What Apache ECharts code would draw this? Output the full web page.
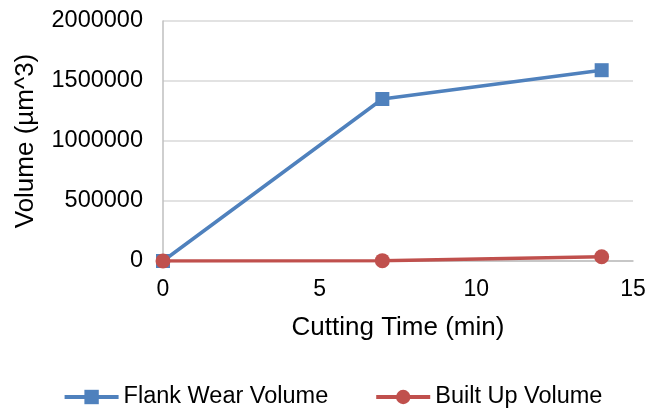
<!DOCTYPE html>
<html>
<head>
<meta charset="utf-8">
<script src="https://cdn.jsdelivr.net/npm/echarts@6/dist/echarts.min.js"></script>
<style>
  html, body { margin: 0; padding: 0; background: #fff; }
  #chart { width: 665px; height: 409px; }
</style>
</head>
<body>
<div id="chart"></div>
<script>
// Cutting time (min) at which each volume was measured
const cuttingTime = [0, 7, 14];
// Tool wear volumes (µm^3)
const flankWearVolume = [0, 1350000, 1590000];
const builtUpVolume = [0, 3000, 35000];

const seriesNames = ['Flank Wear Volume', 'Built Up Volume'];

const font = 'Arial, "Liberation Sans", sans-serif';
const chart = echarts.init(document.getElementById('chart'));

chart.setOption({
  animation: false,
  textStyle: { fontFamily: font, color: '#000' },
  grid: { left: 163, right: 32, top: 21, bottom: 148, containLabel: false },
  xAxis: {
    type: 'value',
    min: 0, max: 15, interval: 5,
    name: 'Cutting Time (min)',
    nameLocation: 'middle',
    nameGap: 54,
    nameTextStyle: { fontSize: 26, fontFamily: font, color: '#000' },
    axisLine: { show: true, lineStyle: { color: '#bfbfbf', width: 1.5 } },
    axisTick: { show: false },
    splitLine: { show: false },
    axisLabel: { fontSize: 23, fontFamily: font, color: '#000', margin: 17 }
  },
  yAxis: {
    type: 'value',
    min: 0, max: 2000000, interval: 500000,
    name: 'Volume (µm^3)',
    nameLocation: 'middle',
    nameGap: 124,
    nameTextStyle: { fontSize: 26, fontFamily: font, color: '#000' },
    axisLine: { show: true, lineStyle: { color: '#bfbfbf', width: 1.5 } },
    axisTick: { show: false },
    splitLine: { show: true, lineStyle: { color: '#d9d9d9', width: 1.5 } },
    axisLabel: {
      fontSize: 23.5, fontFamily: font, color: '#000', margin: 20,
      formatter: v => String(v)
    }
  },
  legend: {
    top: 380,
    left: 'center',
    itemWidth: 54,
    itemHeight: 18,
    itemGap: 46,
    lineStyle: { width: 4 },
    textStyle: { fontSize: 23.5, fontFamily: font, color: '#000' },
    data: seriesNames
  },
  series: [
    {
      name: seriesNames[0],
      type: 'line',
      data: cuttingTime.map((t, i) => [t, flankWearVolume[i]]),
      symbol: 'rect',
      symbolSize: 14,
      lineStyle: { color: '#4f81bd', width: 3.5 },
      itemStyle: { color: '#4f81bd' }
    },
    {
      name: seriesNames[1],
      type: 'line',
      data: cuttingTime.map((t, i) => [t, builtUpVolume[i]]),
      symbol: 'circle',
      symbolSize: 15,
      lineStyle: { color: '#c0504d', width: 3.5 },
      itemStyle: { color: '#c0504d' }
    }
  ]
});
</script>
</body>
</html>
